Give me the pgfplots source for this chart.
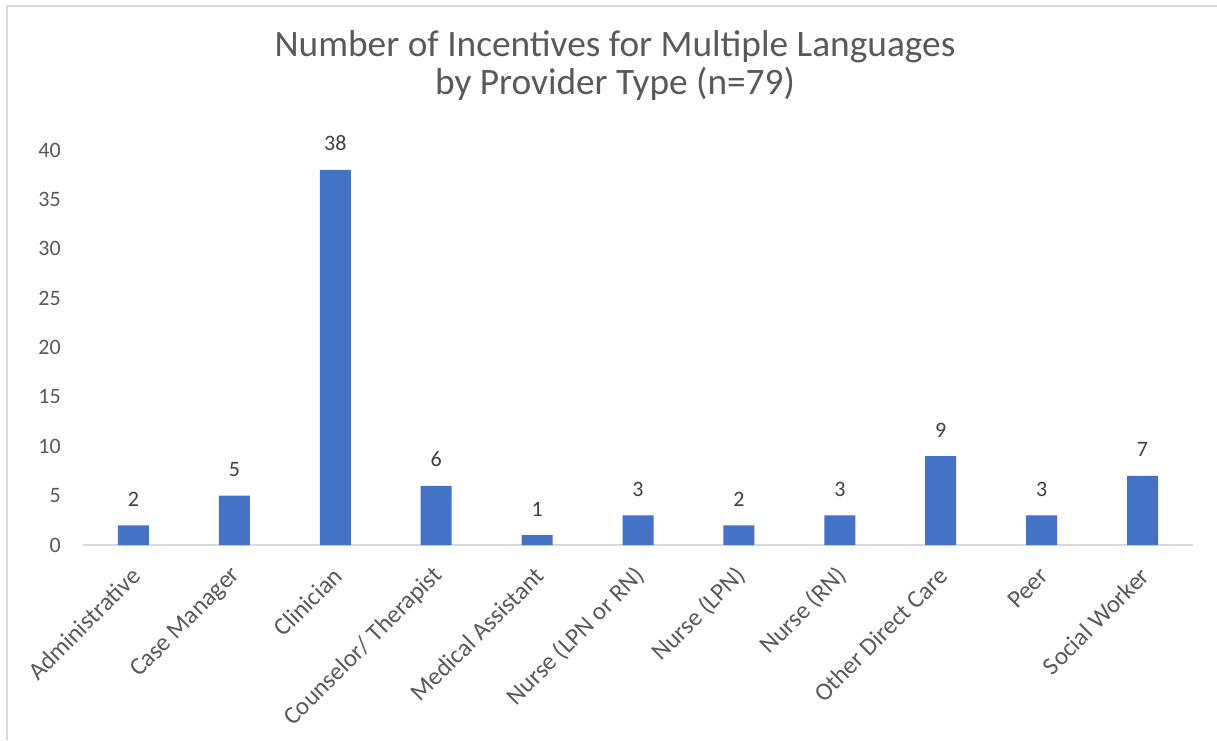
\documentclass[border=0pt]{standalone}
\usepackage{pgfplots}
\pgfplotsset{compat=1.18}
\usepackage{fontspec}
\setmainfont{Carlito}
\definecolor{barblue}{HTML}{4472C4}
\definecolor{ticktxt}{HTML}{595959}
\definecolor{labtxt}{HTML}{404040}
\definecolor{linec}{HTML}{D9D9D9}
\begin{document}
\begin{tikzpicture}
\path[use as bounding box] (0pt,0pt) rectangle (912.75pt,555pt);
\draw[linec, line width=1.5pt] (5.25pt,0pt) -- (5.25pt,550.5pt) -- (912.75pt,550.5pt);
\node[anchor=base, text=ticktxt, inner sep=0pt, font=\fontsize{28pt}{33pt}\selectfont] at (461.25pt,512.25pt) {Number of Incentives for Multiple Languages};
\node[anchor=base, text=ticktxt, inner sep=0pt, font=\fontsize{28pt}{33pt}\selectfont] at (461.25pt,483.75pt) {by Provider Type (n=79)};
\begin{axis}[
  at={(62.25pt,146.25pt)}, anchor=south west,
  scale only axis, width=832.5pt, height=296.25pt,
  xmin=-0.5, xmax=10.5, ymin=0, ymax=40,
  ybar, bar width=23.25pt,
  axis lines*=left,
  y axis line style={draw=none},
  x axis line style={draw=linec, line width=1.5pt},
  major tick length=0pt,
  xtick=data,
  xticklabels={Administrative, Case Manager, Clinician, Counselor/ Therapist, Medical Assistant, Nurse (LPN or RN), Nurse (LPN), Nurse (RN), Other Direct Care, Peer, Social Worker},
  ytick={0,5,...,40},
  /pgf/number format/assume math mode=true,
  ticklabel style={text=ticktxt},
  yticklabel style={font=\fontsize{16.5pt}{20pt}\selectfont, anchor=east, inner sep=0pt, xshift=-16.5pt},
  xticklabel style={font=\fontsize{18.7pt}{22pt}\selectfont, xshift=2pt, yshift=-20pt, rotate=45, anchor=east, inner sep=0pt},
  nodes near coords,
  every node near coord/.append style={font=\fontsize{16.5pt}{20pt}\selectfont, text=labtxt, inner sep=0pt, anchor=south, yshift=14pt},
  clip=false,
]
\addplot[fill=barblue, draw=none] coordinates {(0,2) (1,5) (2,38) (3,6) (4,1) (5,3) (6,2) (7,3) (8,9) (9,3) (10,7)};
\end{axis}
\end{tikzpicture}
\end{document}
